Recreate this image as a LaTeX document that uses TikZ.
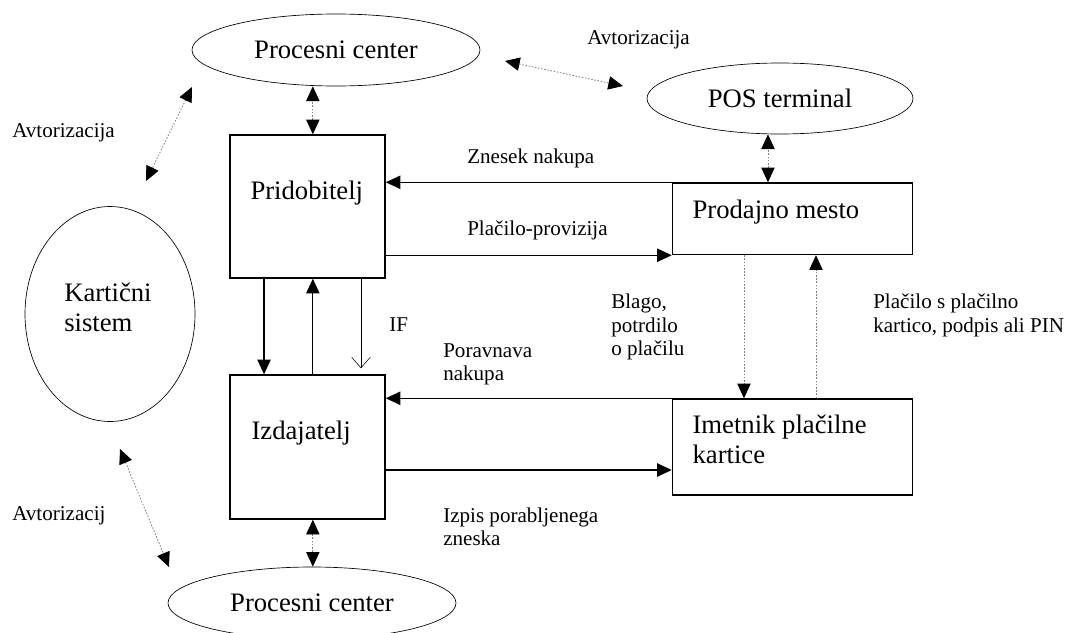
\documentclass[tikz,border=0pt]{standalone}
\usepackage{fontspec}
\setmainfont{Liberation Serif}
\usepackage{tikz}
\usetikzlibrary{positioning,shapes.geometric,arrows.meta}
\newcommand{\diagbig}{\fontsize{20}{22.5}\selectfont}
\newcommand{\diagsmall}{\fontsize{15.8}{17.6}\selectfont}
\tikzset{
  card/.style={rectangle, draw, line width=1.1pt},
  oval/.style={ellipse, draw, line width=0.5pt, inner sep=0pt, font=\diagbig},
  intext/.style={inner sep=0pt, align=left, font=\diagbig},
  lbl/.style={inner sep=0pt, align=left, font=\diagsmall},
  flow/.style={line width=0.9pt, ->},
  thinflow/.style={line width=0.4pt, -{Straight Barb[length=8pt,width=14pt]}, shorten >=4.5pt},
  dotline/.style={gray, line width=0.6pt, dash pattern=on 1.2pt off 1.2pt}
}
\begin{document}
\begin{tikzpicture}[x=0.75pt, y=-0.75pt, >={Triangle[length=11pt, width=10pt, color=black]}]
  \useasboundingbox (0,0) rectangle (1069,632);

  % Nodes
  \node (pctop) [oval, minimum width=216pt, minimum height=54pt] at (336,50) {Procesni center};
  \node (pos) [oval, minimum width=199.5pt, minimum height=53.25pt] at (780,98.5) {POS terminal};
  \node (pcbot) [oval, minimum width=216pt, minimum height=54pt] at (312,603) {Procesni center};
  \node (sistem) [oval, minimum width=127.5pt, minimum height=161.25pt] at (110,314) {};
  \node (prid) [card, minimum width=116.25pt, minimum height=107.25pt] at (307.5,206.5) {};
  \node (izd) [card, minimum width=116.25pt, minimum height=108pt] at (307.5,447) {};
  \node (prod) [card, minimum width=180pt, minimum height=53.6pt] at (792.5,218.75) {};
  \node (imet) [card, minimum width=180pt, minimum height=72pt] at (792.5,447) {};

  % Texts in the shapes
  \node (sistem-txt) [intext, anchor=north west] at (64,282.5) {Kartični\\sistem};
  \node (prid-txt) [intext, below right=34.5pt and 15.75pt of prid.north west] {Pridobitelj};
  \node (izd-txt) [intext, below right=34.5pt and 16.5pt of izd.north west] {Izdajatelj};
  \node (prod-txt) [intext, below right=12.75pt and 15.4pt of prod.north west] {Prodajno mesto};
  \node (imet-txt) [intext, below right=12pt and 15.4pt of imet.north west] {Imetnik plačilne\\kartice};

  % Free ends of the authorisation arrows
  \coordinate (auth-a1) at (505,61);
  \coordinate (auth-a2) at (623,86);
  \coordinate (auth-b1) at (192,87);
  \coordinate (auth-b2) at (146,181);
  \coordinate (auth-c1) at (120,449);
  \coordinate (auth-c2) at (169,567);
  \coordinate (imet-in) at ([yshift=-17.25pt]imet.west);

  % Arrows
  \draw [dotline, <->] ([xshift=4pt]prid.north) -- ([xshift=4pt]prid.north |- pctop.south);
  \draw [dotline, <->] ([xshift=-18.4pt]prod.north) -- ([xshift=-18.4pt]prod.north |- pos.south);
  \draw [dotline, <->] ([xshift=4pt]izd.south) -- ([xshift=4pt]izd.south |- pcbot.north);
  \draw [dotline, <->] (auth-a1) -- (auth-a2);
  \draw [dotline, <->] (auth-b1) -- (auth-b2);
  \draw [dotline, <->] (auth-c1) -- (auth-c2);
  \draw [flow] (prod.north west) -- (prid.east |- prod.north west);
  \draw [flow] (prid.east |- prod.south west) -- (prod.south west);
  \draw [flow] ([xshift=-32.6pt]prid.south) -- ([xshift=-32.6pt]prid.south |- izd.north);
  \draw [flow] ([xshift=4pt]izd.north) -- ([xshift=4pt]izd.north |- prid.south);
  \draw [thinflow] ([xshift=40.1pt]prid.south) -- ([xshift=40.1pt]prid.south |- izd.north);
  \draw [flow] (imet.north west) -- (izd.east |- imet.north west);
  \draw [flow] (izd.east |- imet-in) -- (imet-in);
  \draw [dotline, ->] ([xshift=-36.4pt]prod.south) -- ([xshift=-36.4pt]prod.south |- imet.north);
  \draw [dotline, ->] ([xshift=17.6pt]imet.north) -- ([xshift=17.6pt]imet.north |- prod.south);

  % Annotations
  \node (auth-top) [lbl, anchor=west] at (587,40) {Avtorizacija};
  \node (auth-left) [lbl, anchor=west] at (12,133) {Avtorizacija};
  \node (auth-bot) [lbl, anchor=west] at (12,516) {Avtorizacij};
  \node (znesek) [lbl, anchor=west] at (467,158) {Znesek nakupa};
  \node (provizija) [lbl, anchor=west] at (467,230) {Plačilo-provizija};
  \node (if) [lbl, anchor=west] at (389,325) {IF};
  \node (poravnava) [lbl, anchor=north west] at (443,343) {Poravnava\\nakupa};
  \node (blago) [lbl, anchor=north west] at (611,294) {Blago,\\potrdilo\\o plačilu};
  \node (placilo) [lbl, anchor=north west] at (873,294) {Plačilo s plačilno\\kartico, podpis ali PIN};
  \node (izpis) [lbl, anchor=north west] at (443,507.5) {Izpis porabljenega\\zneska};
\end{tikzpicture}
\end{document}
